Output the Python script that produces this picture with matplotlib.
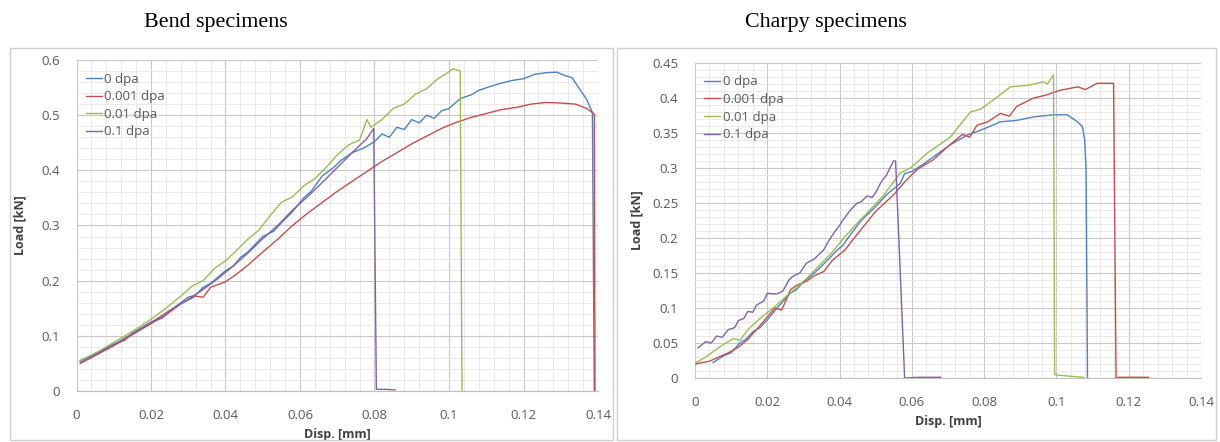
import matplotlib
matplotlib.use("Agg")
import matplotlib.pyplot as plt
from matplotlib.patches import Rectangle
from matplotlib.ticker import MultipleLocator, AutoMinorLocator, FuncFormatter

# ---- data: bend specimens ----
bend_0_x = [0.001, 0.005, 0.010, 0.013, 0.015, 0.020, 0.023, 0.025, 0.030, 0.032, 0.034, 0.036,
            0.040, 0.042, 0.044, 0.046, 0.050, 0.053, 0.055, 0.058, 0.061, 0.063, 0.066, 0.069,
            0.071, 0.074, 0.077, 0.080, 0.082, 0.084, 0.086, 0.088, 0.090, 0.092, 0.094, 0.096,
            0.098, 0.100, 0.103, 0.106, 0.108, 0.111, 0.114, 0.117, 0.120, 0.123, 0.126, 0.129,
            0.131, 0.133, 0.135, 0.137, 0.1385, 0.1390]
bend_0_y = [0.055, 0.068, 0.085, 0.092, 0.105, 0.125, 0.132, 0.145, 0.170, 0.174, 0.188, 0.195,
            0.218, 0.226, 0.242, 0.252, 0.280, 0.290, 0.305, 0.325, 0.350, 0.362, 0.390, 0.405,
            0.418, 0.432, 0.440, 0.452, 0.466, 0.460, 0.478, 0.474, 0.492, 0.486, 0.500, 0.494,
            0.508, 0.512, 0.530, 0.537, 0.545, 0.552, 0.558, 0.563, 0.566, 0.574, 0.577, 0.578,
            0.572, 0.568, 0.548, 0.528, 0.505, 0.0]

bend_001_x = [0.001, 0.005, 0.010, 0.015, 0.020, 0.024, 0.028, 0.032, 0.034, 0.036, 0.040, 0.043,
              0.046, 0.050, 0.054, 0.058, 0.062, 0.066, 0.070, 0.074, 0.078, 0.082, 0.086, 0.090,
              0.094, 0.098, 0.102, 0.106, 0.110, 0.114, 0.118, 0.122, 0.126, 0.130, 0.134, 0.137,
              0.139, 0.1392]
bend_001_y = [0.050, 0.064, 0.082, 0.102, 0.122, 0.138, 0.158, 0.172, 0.170, 0.188, 0.198, 0.212,
              0.228, 0.252, 0.275, 0.300, 0.322, 0.342, 0.362, 0.380, 0.398, 0.416, 0.432, 0.448,
              0.462, 0.476, 0.487, 0.496, 0.503, 0.510, 0.514, 0.520, 0.523, 0.522, 0.520, 0.512,
              0.502, 0.0]

bend_01_x = [0.001, 0.005, 0.010, 0.015, 0.020, 0.024, 0.028, 0.031, 0.034, 0.037, 0.040, 0.043,
             0.046, 0.049, 0.052, 0.055, 0.058, 0.061, 0.064, 0.067, 0.070, 0.073, 0.076, 0.078,
             0.079, 0.082, 0.085, 0.088, 0.091, 0.094, 0.097, 0.099, 0.101, 0.103, 0.1035]
bend_01_y = [0.055, 0.068, 0.088, 0.108, 0.130, 0.150, 0.172, 0.190, 0.200, 0.222, 0.236, 0.255,
             0.275, 0.292, 0.318, 0.342, 0.352, 0.372, 0.385, 0.405, 0.428, 0.446, 0.455, 0.492,
             0.478, 0.492, 0.512, 0.520, 0.538, 0.548, 0.566, 0.574, 0.584, 0.580, 0.0]

bend_1_x = [0.001, 0.005, 0.010, 0.015, 0.020, 0.025, 0.030, 0.034, 0.038, 0.042, 0.046, 0.050,
            0.054, 0.058, 0.062, 0.066, 0.070, 0.074, 0.078, 0.0798, 0.0805, 0.083, 0.0855]
bend_1_y = [0.052, 0.066, 0.084, 0.104, 0.124, 0.146, 0.166, 0.184, 0.204, 0.226, 0.250, 0.276,
            0.300, 0.328, 0.352, 0.378, 0.405, 0.432, 0.458, 0.476, 0.003, 0.003, 0.002]

# ---- data: charpy specimens ----
charpy_0_x = [0.005, 0.008, 0.010, 0.0124, 0.014, 0.016, 0.018, 0.020, 0.023, 0.0264, 0.028,
              0.030, 0.033, 0.036, 0.0394, 0.041, 0.043, 0.046, 0.050, 0.053, 0.0568, 0.058,
              0.060, 0.063, 0.066, 0.0706, 0.0753, 0.080, 0.0845, 0.089, 0.0937, 0.0992, 0.103,
              0.1058, 0.1072, 0.1078, 0.1082, 0.1086]
charpy_0_y = [0.022, 0.032, 0.036, 0.050, 0.055, 0.066, 0.072, 0.083, 0.102, 0.121, 0.126,
              0.137, 0.150, 0.165, 0.183, 0.190, 0.205, 0.225, 0.245, 0.262, 0.278, 0.292,
              0.295, 0.305, 0.316, 0.333, 0.347, 0.356, 0.366, 0.368, 0.373, 0.376, 0.376,
              0.366, 0.359, 0.340, 0.300, 0.0]

charpy_001_x = [0.000, 0.004, 0.0092, 0.012, 0.0146, 0.018, 0.0221, 0.024, 0.0264, 0.028, 0.0308,
                0.033, 0.0356, 0.038, 0.0415, 0.0459, 0.050, 0.055, 0.058, 0.0615, 0.066, 0.0698,
                0.074, 0.076, 0.078, 0.081, 0.0845, 0.087, 0.089, 0.0937, 0.097, 0.101, 0.106,
                0.108, 0.1113, 0.1158, 0.1165, 0.117, 0.1255]
charpy_001_y = [0.020, 0.024, 0.036, 0.044, 0.055, 0.075, 0.100, 0.097, 0.126, 0.132, 0.138,
                0.146, 0.152, 0.168, 0.183, 0.212, 0.238, 0.262, 0.280, 0.298, 0.312, 0.330,
                0.348, 0.344, 0.361, 0.366, 0.378, 0.374, 0.388, 0.400, 0.404, 0.411, 0.416,
                0.412, 0.421, 0.421, 0.0, 0.001, 0.001]

charpy_01_x = [0.000, 0.003, 0.007, 0.0105, 0.0125, 0.0146, 0.018, 0.0221, 0.0255, 0.0286, 0.032,
               0.035, 0.038, 0.0415, 0.045, 0.048, 0.052, 0.0568, 0.0596, 0.0642, 0.0706,
               0.0762, 0.079, 0.0817, 0.0873, 0.092, 0.0964, 0.0975, 0.0992, 0.0995, 0.1005,
               0.1075]
charpy_01_y = [0.021, 0.030, 0.045, 0.056, 0.054, 0.069, 0.085, 0.102, 0.118, 0.131, 0.148,
               0.164, 0.180, 0.202, 0.222, 0.238, 0.260, 0.293, 0.300, 0.321, 0.344,
               0.380, 0.384, 0.394, 0.416, 0.418, 0.423, 0.420, 0.433, 0.005, 0.004,
               0.001]

charpy_1_x = [0.0008, 0.003, 0.0045, 0.006, 0.0075, 0.0092, 0.011, 0.012, 0.0135, 0.0146, 0.016,
              0.017, 0.019, 0.020, 0.0225, 0.0243, 0.026, 0.027, 0.029, 0.0308, 0.033, 0.0356,
              0.037, 0.0388, 0.040, 0.041, 0.043, 0.0449, 0.046, 0.0476, 0.049, 0.050, 0.0515,
              0.053, 0.0549, 0.0555, 0.0580, 0.062, 0.068]
charpy_1_y = [0.043, 0.052, 0.050, 0.060, 0.058, 0.069, 0.072, 0.082, 0.085, 0.095, 0.094,
              0.104, 0.110, 0.121, 0.120, 0.124, 0.140, 0.145, 0.150, 0.164, 0.170, 0.183,
              0.196, 0.210, 0.218, 0.226, 0.240, 0.250, 0.252, 0.260, 0.258, 0.265, 0.280,
              0.290, 0.310, 0.310, 0.0, 0.001, 0.001]

labels = ["0 dpa", "0.001 dpa", "0.01 dpa", "0.1 dpa"]
colors = ["#4F81BD", "#C0504D", "#9BBB59", "#8064A2"]

W, H = 1220, 442
fig = plt.figure(figsize=(W / 100, H / 100), dpi=100)
plt.rcParams["font.family"] = ["Open Sans", "DejaVu Sans"]


def fx(px):
    return px / W


def fy(py):
    return 1 - py / H


# chart area frames
for x0, x1 in [(10, 613), (617, 1216)]:
    fig.patches.append(Rectangle((fx(x0), fy(440)), fx(x1 - x0), (440 - 48) / H,
                                 transform=fig.transFigure, fill=False,
                                 edgecolor="#D0D0D0", linewidth=1.0))

fig.text(fx(216), fy(22), "Bend specimens", family="Liberation Serif", fontsize=15.8,
         ha="center", va="center")
fig.text(fx(826), fy(22), "Charpy specimens", family="Liberation Serif", fontsize=15.8,
         ha="center", va="center")

fmt = FuncFormatter(lambda v, p: f"{round(v, 4):g}")


def style(ax, ymax, ystep, ylab_x):
    ax.set_xlim(0, 0.14)
    ax.set_ylim(0, ymax)
    ax.xaxis.set_major_locator(MultipleLocator(0.02))
    ax.yaxis.set_major_locator(MultipleLocator(ystep))
    ax.xaxis.set_minor_locator(AutoMinorLocator(5))
    ax.yaxis.set_minor_locator(AutoMinorLocator(5))
    ax.xaxis.set_major_formatter(fmt)
    ax.yaxis.set_major_formatter(fmt)
    ax.grid(which="major", color="#C8C8C8", linewidth=0.8)
    ax.grid(which="minor", color="#E6E6E6", linewidth=0.6)
    ax.set_axisbelow(True)
    for s in ax.spines.values():
        s.set_visible(False)
    ax.spines["bottom"].set_visible(True)
    ax.spines["bottom"].set_color("#BFBFBF")
    ax.tick_params(which="both", length=0, labelsize=9.5, colors="#595959")
    ax.tick_params(axis="y", pad=12)
    ax.tick_params(axis="x", pad=13)
    ax.set_xlabel("Disp. [mm]", fontsize=9, fontweight="bold", color="#404040", labelpad=4)
    ax.set_ylabel("Load [kN]", fontsize=9, fontweight="bold", color="#404040")
    ax.yaxis.set_label_coords(ylab_x, 0.5)


ax1 = fig.add_axes([fx(76.5), fy(391), fx(598 - 76.5), (391 - 60) / H])
for xs, ys, lab, c in zip([bend_0_x, bend_001_x, bend_01_x, bend_1_x],
                          [bend_0_y, bend_001_y, bend_01_y, bend_1_y], labels, colors):
    ax1.plot(xs, ys, color=c, linewidth=1.0, label=lab)
style(ax1, 0.6, 0.1, -0.095)
ax1.legend(loc="upper left", bbox_to_anchor=(0.0, 0.99), frameon=False, fontsize=9.5,
           handlelength=1.2, handletextpad=0.2, labelspacing=0.35, borderaxespad=0.3,
           labelcolor="#595959")

ax2 = fig.add_axes([fx(695), fy(378), fx(1201 - 695), (378 - 63) / H])
for xs, ys, lab, c in zip([charpy_0_x, charpy_001_x, charpy_01_x, charpy_1_x],
                          [charpy_0_y, charpy_001_y, charpy_01_y, charpy_1_y], labels, colors):
    ax2.plot(xs, ys, color=c, linewidth=1.0, label=lab)
style(ax2, 0.45, 0.05, -0.102)
ax2.legend(loc="upper left", bbox_to_anchor=(0.0, 0.99), frameon=False, fontsize=9.5,
           handlelength=1.2, handletextpad=0.2, labelspacing=0.35, borderaxespad=0.3,
           labelcolor="#595959")

fig.savefig("out.png", dpi=100)
